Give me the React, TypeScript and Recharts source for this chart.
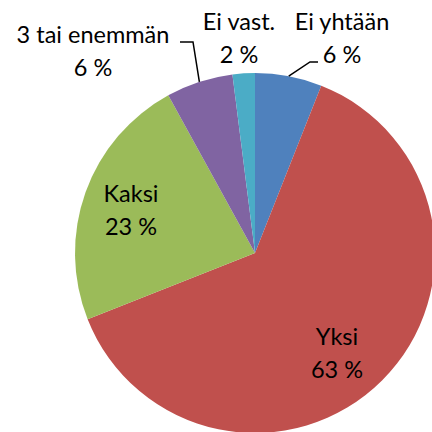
import React from "react";
import { PieChart, Pie, Cell } from "recharts";

const categories = ["Ei yhtään", "Yksi", "Kaksi", "3 tai enemmän", "Ei vast."];
const values = [6, 63, 23, 6, 2];
const colors = ["#4F81BD", "#C0504D", "#9BBB59", "#8064A2", "#4BACC6"];

// label placement relative to pie centre (dx, baseline dy of first line)
const labelOffsets = [
  { dx: 87, dy: -223 },
  { dx: 82, dy: 92 },
  { dx: -124, dy: -51 },
  { dx: -162, dy: -210 },
  { dx: -16, dy: -223 },
];
// leader lines: relative points after the pie edge point
const leaderLines: Record<number, { x: number; y: number }[]> = {
  0: [
    { x: 55, y: -191 },
    { x: 63, y: -191 },
  ],
  3: [
    { x: -62, y: -211 },
    { x: -75, y: -211 },
  ],
};

const data = categories.map((name, i) => ({ name, value: values[i] }));

const FONT = "Lato, 'Open Sans', sans-serif";
const LINE_GAP = 33;

const RADIAN = Math.PI / 180;

const renderLabel = (props: any) => {
  const { cx, cy, midAngle, outerRadius, index } = props;
  const off = labelOffsets[index];
  const x = cx + off.dx;
  const y = cy + off.dy;
  const els: React.ReactNode[] = [];
  const pts = leaderLines[index];
  if (pts) {
    const ex = cx + outerRadius * Math.cos(-midAngle * RADIAN);
    const ey = cy + outerRadius * Math.sin(-midAngle * RADIAN);
    const d =
      `M${ex},${ey}` + pts.map((p) => ` L${cx + p.x},${cy + p.y}`).join("");
    els.push(
      <path key="l" d={d} stroke="#000" strokeWidth={1.5} fill="none" />
    );
  }
  els.push(
    <text
      key="t"
      x={x}
      y={y}
      textAnchor="middle"
      fill="#000"
      fontFamily={FONT}
      fontSize={23.5}
    >
      <tspan x={x} y={y}>
        {categories[index]}
      </tspan>
      <tspan x={x} y={y + LINE_GAP}>
        {`${values[index]} %`}
      </tspan>
    </text>
  );
  return <g key={`lbl-${index}`}>{els}</g>;
};

export default function App() {
  return (
    <div style={{ position: "absolute", left: 0, top: 0, width: 432, height: 432, background: "#fff" }}>
      <PieChart width={432} height={432} margin={{ top: 0, right: 0, bottom: 0, left: 0 }}>
        <Pie
          data={data}
          dataKey="value"
          nameKey="name"
          cx={255}
          cy={253}
          outerRadius={180}
          startAngle={90}
          endAngle={-270}
          stroke="none"
          label={renderLabel}
          labelLine={false}
          isAnimationActive={false}
        >
          {data.map((d, i) => (
            <Cell key={d.name} fill={colors[i]} />
          ))}
        </Pie>
      </PieChart>
    </div>
  );
}
